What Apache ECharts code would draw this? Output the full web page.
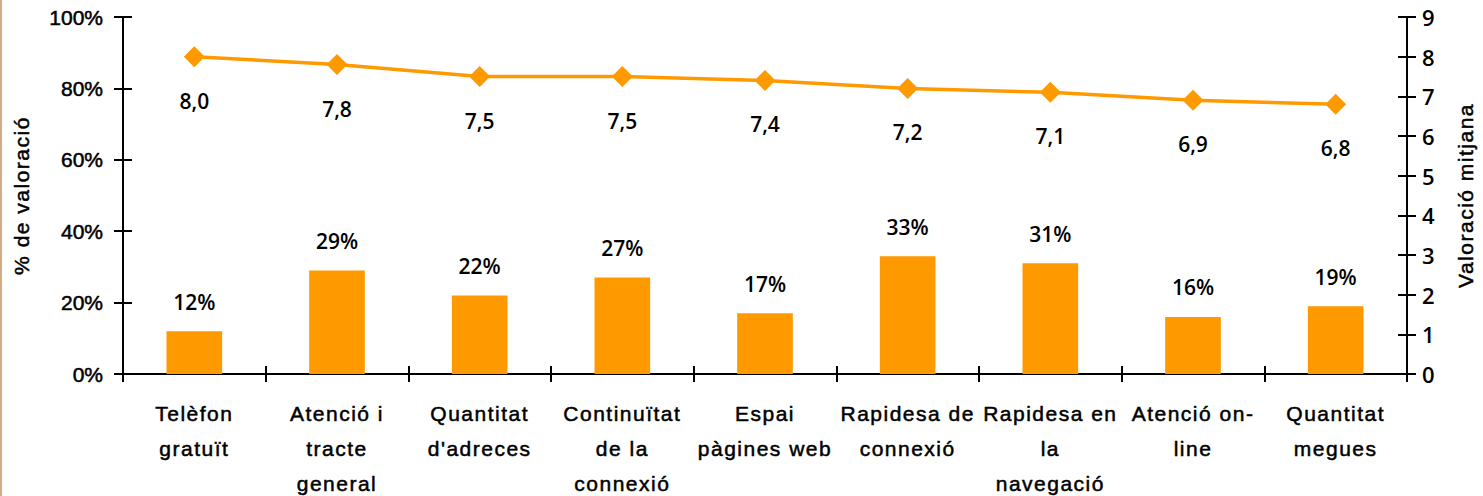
<!DOCTYPE html>
<html>
<head>
<meta charset="utf-8">
<script src="https://cdn.jsdelivr.net/npm/echarts@6/dist/echarts.min.js"></script>
<style>
  html, body { margin: 0; padding: 0; background: #fff; }
  #chart { width: 1483px; height: 496px; }
  /* category labels and axis titles are set with a little extra tracking */
  #chart text[style*="Arial"] { letter-spacing: 1.5px; }
</style>
</head>
<body>
<div id="chart"></div>
<script>
// Service aspects rated by users
const categories = [
  'Telèfon\ngratuït',
  'Atenció i\ntracte\ngeneral',
  'Quantitat\nd\'adreces',
  'Continuïtat\nde la\nconnexió',
  'Espai\npàgines web',
  'Rapidesa de\nconnexió',
  'Rapidesa en\nla\nnavegació',
  'Atenció on-\nline',
  'Quantitat\nmegues'
];
// Share of ratings (%), left axis
const pctValues = [12, 29, 22, 27, 17, 33, 31, 16, 19];
// Average rating (0-9), right axis
const meanValues = [8.0, 7.8, 7.5, 7.5, 7.4, 7.2, 7.1, 6.9, 6.8];

const ORANGE = '#FF9900';
const WIDE_FONT = 'Arial, sans-serif';          // tracked text
const TICK_FONT = '"Liberation Sans", sans-serif';
const NUM_FONT = '"Open Sans", "Noto Sans", sans-serif';

const chart = echarts.init(document.getElementById('chart'), null, { renderer: 'svg' });

const axisLine = { show: true, lineStyle: { color: '#000', width: 2 } };
const tickStyle = { color: '#000', width: 2 };
// slightly heavier strokes for the sans labels
const heavy = { textBorderColor: '#000', textBorderWidth: 0.5 };

chart.setOption({
  animation: false,
  backgroundColor: '#fff',
  graphic: [{
    type: 'rect', left: 0, top: 0,
    shape: { width: 2, height: 496 },
    style: { fill: '#D4AA82' }
  }],
  grid: { left: 123, right: 76, top: 17, bottom: 122, containLabel: false, outerBoundsMode: 'none' },
  xAxis: [{
    type: 'category',
    data: categories,
    boundaryGap: true,
    axisLine: axisLine,
    axisTick: { show: true, length: 8, lineStyle: tickStyle },
    axisLabel: Object.assign({
      interval: 0, margin: 22, color: '#000',
      fontFamily: WIDE_FONT, fontSize: 21, lineHeight: 35
    }, heavy),
    splitLine: { show: false }
  }, {
    type: 'category',
    data: categories,
    boundaryGap: true,
    position: 'bottom',
    axisLine: { show: false },
    axisTick: { show: true, inside: true, length: 8, lineStyle: tickStyle },
    axisLabel: { show: false },
    splitLine: { show: false }
  }],
  yAxis: [{
    type: 'value',
    position: 'left',
    min: 0, max: 100, interval: 20,
    name: '% de valoració',
    nameLocation: 'middle',
    nameRotate: 90,
    nameGap: 91,
    nameTextStyle: Object.assign({ color: '#000', fontFamily: WIDE_FONT, fontSize: 21 }, heavy),
    axisLine: axisLine,
    axisTick: { show: true, length: 9, lineStyle: tickStyle },
    axisLabel: Object.assign({
      margin: 20, color: '#000', fontFamily: TICK_FONT, fontSize: 21,
      formatter: v => v + '%'
    }, heavy),
    splitLine: { show: false }
  }, {
    type: 'value',
    position: 'right',
    min: 0, max: 9, interval: 1,
    name: 'Valoració mitjana',
    nameLocation: 'middle',
    nameRotate: 90,
    nameGap: 48,
    nameTextStyle: Object.assign({ color: '#000', fontFamily: WIDE_FONT, fontSize: 21 }, heavy),
    axisLine: axisLine,
    axisTick: { show: true, length: 9, lineStyle: tickStyle },
    axisLabel: { margin: 15, color: '#000', fontFamily: NUM_FONT, fontWeight: 600, fontSize: 22 },
    splitLine: { show: false }
  }, {
    type: 'value',
    position: 'left',
    min: 0, max: 100, interval: 20,
    axisLine: { show: false },
    axisTick: { show: true, inside: true, length: 9, lineStyle: tickStyle },
    axisLabel: { show: false },
    splitLine: { show: false }
  }, {
    type: 'value',
    position: 'right',
    min: 0, max: 9, interval: 1,
    axisLine: { show: false },
    axisTick: { show: true, inside: true, length: 9, lineStyle: tickStyle },
    axisLabel: { show: false },
    splitLine: { show: false }
  }],
  series: [{
    name: '% de valoració',
    type: 'bar',
    data: pctValues,
    xAxisIndex: 0,
    yAxisIndex: 0,
    barWidth: '39%',
    itemStyle: { color: ORANGE },
    label: {
      show: true, position: 'top', distance: 19,
      color: '#000', fontFamily: NUM_FONT, fontWeight: 600, fontSize: 21,
      formatter: p => p.value + '%'
    }
  }, {
    name: 'Valoració mitjana',
    type: 'line',
    data: meanValues,
    xAxisIndex: 0,
    yAxisIndex: 1,
    symbol: 'diamond',
    symbolSize: 21,
    lineStyle: { color: ORANGE, width: 3.5 },
    itemStyle: { color: ORANGE },
    label: {
      show: true, position: 'bottom', distance: 23,
      color: '#000', fontFamily: NUM_FONT, fontWeight: 600, fontSize: 21,
      formatter: p => p.value.toFixed(1).replace('.', ',')
    }
  }]
});
</script>
</body>
</html>
